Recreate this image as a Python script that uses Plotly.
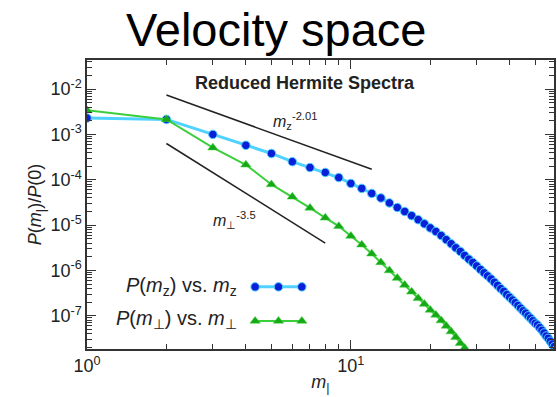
import plotly.graph_objects as go

# ---------------- data ----------------
m_z = list(range(1, 61))
P_z = [2.29e-3, 2.14e-3, 1.0e-3, 5.75e-4, 3.80e-4, 2.51e-4, 1.86e-4, 1.45e-4, 1.12e-4, 8.3e-5,
       6.46e-5, 5.01e-5, 3.98e-5, 3.09e-5, 2.45e-5, 2.0e-5, 1.62e-5, 1.32e-5, 1.07e-5, 8.7e-6,
       7.24e-6, 5.89e-6, 4.79e-6, 3.89e-6, 3.16e-6, 2.63e-6, 2.14e-6, 1.78e-6, 1.51e-6, 1.26e-6,
       1.05e-6, 8.9e-7, 7.6e-7, 6.5e-7, 5.5e-7, 4.7e-7, 3.98e-7, 3.47e-7, 2.95e-7, 2.57e-7,
       2.24e-7, 1.95e-7, 1.70e-7, 1.48e-7, 1.29e-7, 1.15e-7, 1.0e-7, 8.9e-8, 7.8e-8, 6.9e-8,
       6.3e-8, 5.5e-8, 4.8e-8, 4.2e-8, 3.6e-8, 3.2e-8, 2.75e-8, 2.4e-8, 2.1e-8, 1.8e-8]

m_perp = list(range(1, 29))
P_perp = [3.4e-3, 2.14e-3, 5.1e-4, 2.14e-4, 7.9e-5, 4.2e-5, 2.4e-5, 1.45e-5, 9.5e-6, 5.75e-6,
          3.7e-6, 2.34e-6, 1.51e-6, 1.0e-6, 6.8e-7, 4.8e-7, 3.4e-7, 2.45e-7, 1.82e-7, 1.35e-7,
          1.05e-7, 7.9e-8, 6.0e-8, 4.5e-8, 3.4e-8, 2.5e-8, 1.95e-8, 1.48e-8]

# reference power-law guide lines
guide_z_x = [2, 12]
guide_z_y = [7.4e-3, 1.7e-4]
guide_perp_x = [2, 8]
guide_perp_y = [6.3e-4, 4.0e-6]

# tick labels
x_decades = [0, 1]
y_decades = [-7, -6, -5, -4, -3, -2]
x_tickvals = [10.0 ** d for d in x_decades]
x_ticktext = ["10<sup>%d</sup>" % d for d in x_decades]
y_tickvals = [10.0 ** d for d in y_decades]
y_ticktext = ["10<sup>%d</sup>" % d for d in y_decades]

legend_labels = ["<i>P</i>(<i>m</i><sub>z</sub>) vs. <i>m</i><sub>z</sub>",
                 "<i>P</i>(<i>m</i><sub>⊥</sub>) vs. <i>m</i><sub>⊥</sub>"]

BLUE_M = "#0a1fd8"
BLUE_L = "#4fd2ff"
GREEN_M = "#16a816"
GREEN_L = "#3ccf3c"
FONT = "Liberation Sans, Arial, sans-serif"


def minor_vals(decades):
    return [k * 10.0 ** d for d in decades for k in range(2, 10)]


fig = go.Figure()

fig.add_trace(go.Scatter(x=guide_z_x, y=guide_z_y, mode="lines",
                         line=dict(color="#222222", width=1.5), showlegend=False))
fig.add_trace(go.Scatter(x=guide_perp_x, y=guide_perp_y, mode="lines",
                         line=dict(color="#222222", width=1.5), showlegend=False))

fig.add_trace(go.Scatter(x=m_z, y=P_z, mode="lines+markers",
                         line=dict(color=BLUE_L, width=3),
                         marker=dict(color=BLUE_M, size=8.5, symbol="circle",
                                     line=dict(color=BLUE_L, width=1)),
                         showlegend=False))
fig.add_trace(go.Scatter(x=m_perp, y=P_perp, mode="lines+markers",
                         line=dict(color=GREEN_L, width=2),
                         marker=dict(color=GREEN_M, size=9, symbol="triangle-up",
                                     line=dict(color=GREEN_L, width=0.5)),
                         showlegend=False))

# legend samples on an overlay axis (0..1 range, like paper coordinates)
fig.add_trace(go.Scatter(x=[0.36, 0.41, 0.46], y=[0.215, 0.215, 0.215], mode="lines+markers",
                         xaxis="x2", yaxis="y2",
                         line=dict(color=BLUE_L, width=3),
                         marker=dict(color=BLUE_M, size=8.5, line=dict(color=BLUE_L, width=1)),
                         showlegend=False, hoverinfo="skip"))
fig.add_trace(go.Scatter(x=[0.36, 0.41, 0.46], y=[0.097, 0.097, 0.097], mode="lines+markers",
                         xaxis="x2", yaxis="y2",
                         line=dict(color=GREEN_L, width=2),
                         marker=dict(color=GREEN_M, size=9, symbol="triangle-up",
                                     line=dict(color=GREEN_L, width=0.5)),
                         showlegend=False, hoverinfo="skip"))

axis_common = dict(
    type="log", showline=True, linecolor="#333333", linewidth=1.5, mirror="allticks",
    ticks="inside", ticklen=9, tickwidth=1.2, tickcolor="#333333",
    showgrid=False, zeroline=False, tickmode="array",
    tickfont=dict(family=FONT, size=18, color="#222222"),
)

fig.update_layout(
    width=557, height=397,
    margin=dict(l=87, r=1, t=60, b=48),
    paper_bgcolor="white", plot_bgcolor="white",
    font=dict(family=FONT, color="#222222"),
    xaxis=dict(axis_common, range=[0, 1.77], tickvals=x_tickvals, ticktext=x_ticktext,
               minor=dict(ticks="inside", ticklen=5, tickwidth=1, tickcolor="#333333",
                          tickmode="array", tickvals=minor_vals([0, 1]), showgrid=False),
               title=dict(text="<i>m</i><sub>|</sub>", font=dict(family=FONT, size=18),
                          standoff=0)),
    yaxis=dict(axis_common, range=[-7.73, -1.36], tickvals=y_tickvals, ticktext=y_ticktext,
               minor=dict(ticks="inside", ticklen=5, tickwidth=1, tickcolor="#333333",
                          tickmode="array", tickvals=minor_vals(range(-8, -1)),
                          showgrid=False),
               title=dict(text="<i>P</i>(<i>m</i><sub>|</sub>)/<i>P</i>(0)",
                          font=dict(family=FONT, size=18), standoff=4)),
    xaxis2=dict(overlaying="x", range=[0, 1], visible=False, fixedrange=True),
    yaxis2=dict(overlaying="y", range=[0, 1], visible=False, fixedrange=True),
    showlegend=False,
)

annotations = [
    dict(text="Velocity space", xref="paper", yref="paper", x=0.405, y=1.0,
         yshift=2, xanchor="center", yanchor="bottom", showarrow=False,
         font=dict(family=FONT, size=47, color="black")),
    dict(text="<b>Reduced Hermite Spectra</b>", xref="paper", yref="paper",
         x=0.467, y=0.92, xanchor="center", yanchor="middle", showarrow=False,
         font=dict(family=FONT, size=18, color="#222222")),
    dict(text="<i>m</i><sub>z</sub><sup>-2.01</sup>", xref="paper", yref="paper",
         x=0.395, y=0.79, xanchor="left", yanchor="middle", showarrow=False,
         font=dict(family=FONT, size=16, color="#222222")),
    dict(text="<i>m</i><sub>⊥</sub><sup>-3.5</sup>", xref="paper", yref="paper",
         x=0.265, y=0.445, xanchor="left", yanchor="middle", showarrow=False,
         font=dict(family=FONT, size=16, color="#222222")),
]
for i, lab in enumerate(legend_labels):
    annotations.append(dict(text=lab, xref="paper", yref="paper",
                            x=0.325, y=[0.215, 0.103][i], xanchor="right", yanchor="middle",
                            showarrow=False,
                            font=dict(family=FONT, size=20, color="#222222")))
fig.update_layout(annotations=annotations)

fig.write_html("out.html")
